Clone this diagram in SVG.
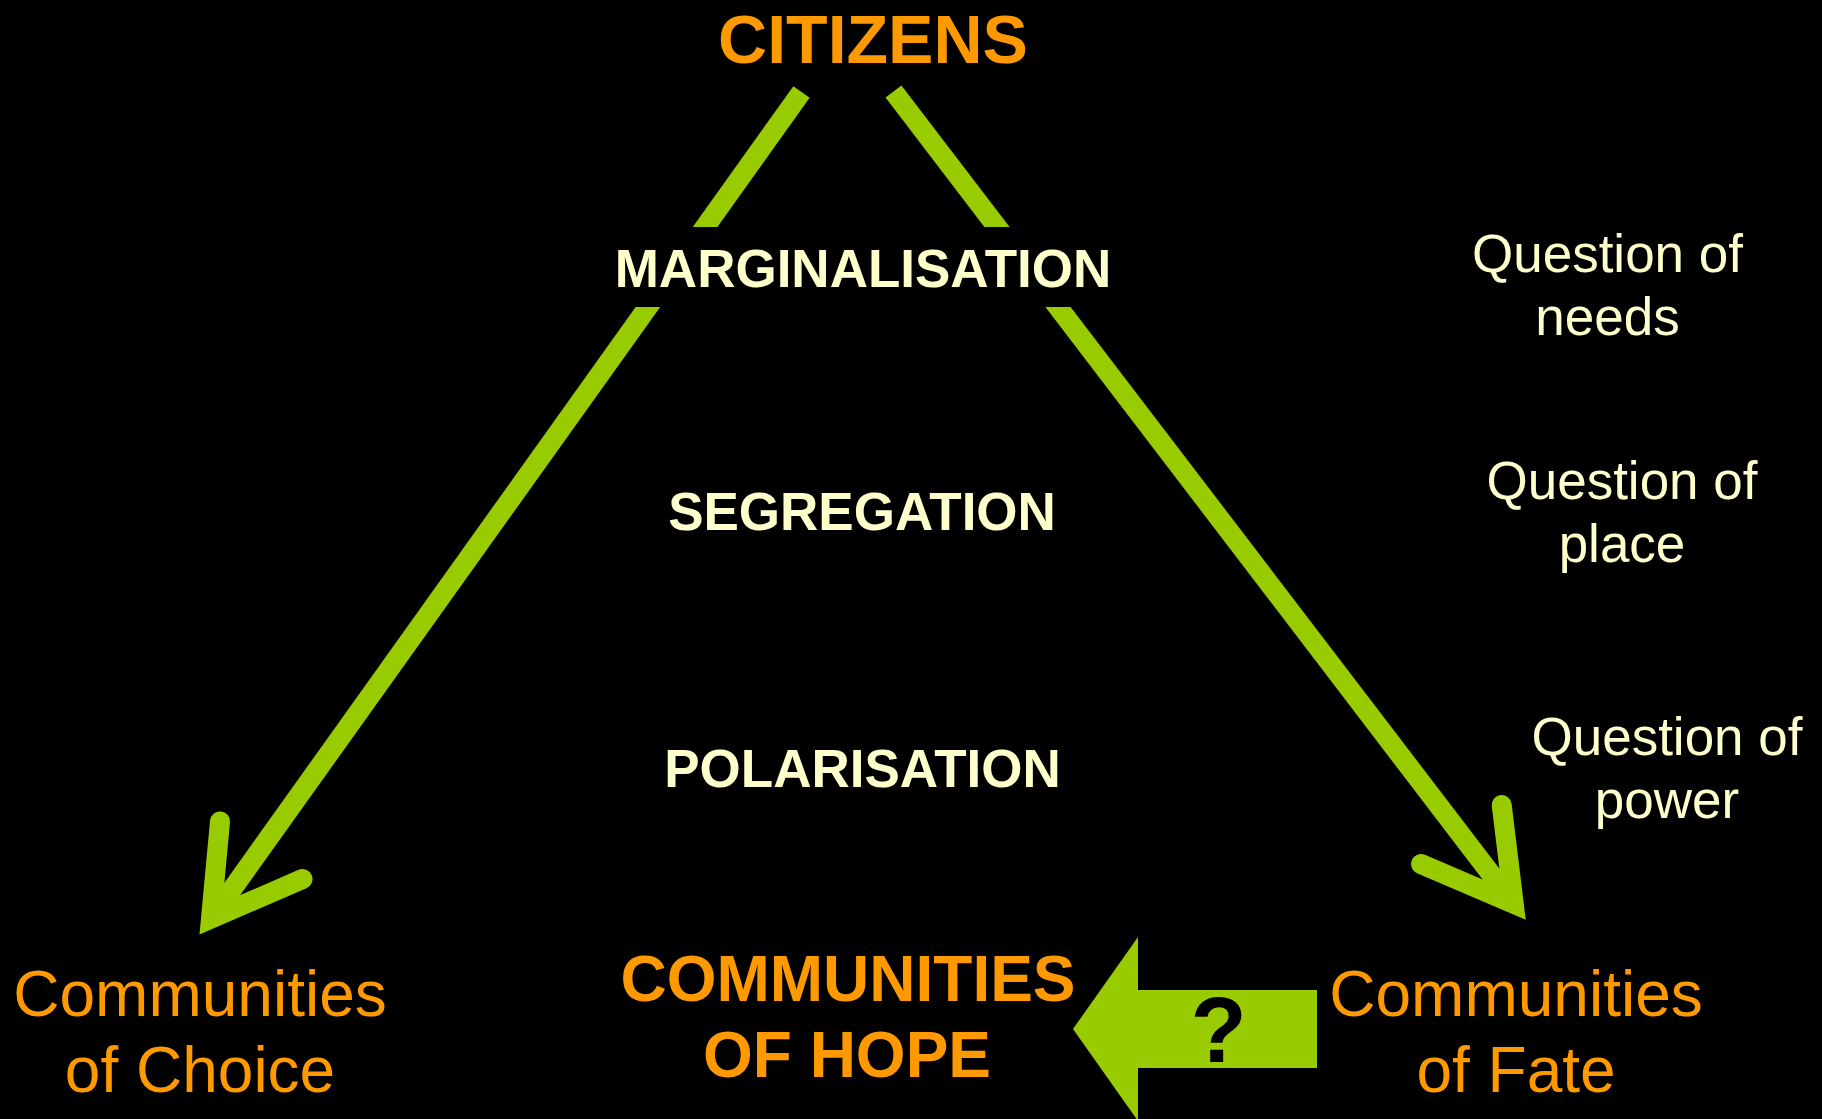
<svg xmlns="http://www.w3.org/2000/svg" width="1822" height="1119" viewBox="0 0 1822 1119">
<style>
.bg{fill:#000000}
.shaft{stroke:#99CC00;stroke-width:20;fill:none;stroke-linecap:butt}
.head{stroke:#99CC00;stroke-width:20;fill:none;stroke-linecap:round;stroke-linejoin:miter;stroke-miterlimit:10}
.title{font-family:"Liberation Sans",Arial,sans-serif;font-weight:bold;fill:#FF9900;text-anchor:middle}
.stage{font-family:"Liberation Sans",Arial,sans-serif;font-weight:bold;font-size:53px;fill:#FFFFCC;text-anchor:middle}
.comm{font-family:"Liberation Sans",Arial,sans-serif;font-size:64px;fill:#FF9900;text-anchor:middle}
.q{font-family:"Liberation Sans",Arial,sans-serif;font-size:53px;fill:#FFFFCC;text-anchor:middle}
</style>
<rect class="bg" x="0" y="0" width="1822" height="1119"/>
<g id="connectors">
<line class="shaft" x1="801.5" y1="92" x2="211" y2="918.7"/>
<polyline class="head" points="220,821.5 211,918.7 302.5,879"/>
<line class="shaft" x1="893.5" y1="91.5" x2="1513.7" y2="903.8"/>
<polyline class="head" points="1501.7,805 1513.7,903.8 1421,864"/>
<polygon id="hope-arrow" points="1073,1029 1138,937 1138,990 1317,990 1317,1068 1138,1068 1138,1121" fill="#99CC00"/>
</g>
<g id="citizens"><text class="title" x="873" y="63" font-size="68">CITIZENS</text></g>
<g id="marginalisation">
<rect x="590" y="227" width="540" height="80" fill="#000000"/>
<text class="stage" x="863" y="287">MARGINALISATION</text>
</g>
<g id="segregation"><text class="stage" x="862" y="530">SEGREGATION</text></g>
<g id="polarisation"><text class="stage" x="862.5" y="786.7">POLARISATION</text></g>
<g id="communities-of-choice">
<text class="comm" x="200" y="1016">Communities</text>
<text class="comm" x="200" y="1092">of Choice</text>
</g>
<g id="communities-of-hope">
<text class="title" x="848" y="1001" font-size="64">COMMUNITIES</text>
<text class="title" x="847" y="1077" font-size="64">OF HOPE</text>
</g>
<g id="communities-of-fate">
<text class="comm" x="1516" y="1016">Communities</text>
<text class="comm" x="1516" y="1092">of Fate</text>
</g>
<g id="question-mark"><text x="1218.5" y="1062" font-family="Liberation Sans, Arial, sans-serif" font-weight="bold" font-size="92" fill="#000000" text-anchor="middle">?</text></g>
<g id="q-needs">
<text class="q" x="1607.5" y="272">Question of</text>
<text class="q" x="1607.5" y="335">needs</text>
</g>
<g id="q-place">
<text class="q" x="1622" y="499">Question of</text>
<text class="q" x="1622" y="562">place</text>
</g>
<g id="q-power">
<text class="q" x="1667" y="755">Question of</text>
<text class="q" x="1667" y="818">power</text>
</g>
</svg>
